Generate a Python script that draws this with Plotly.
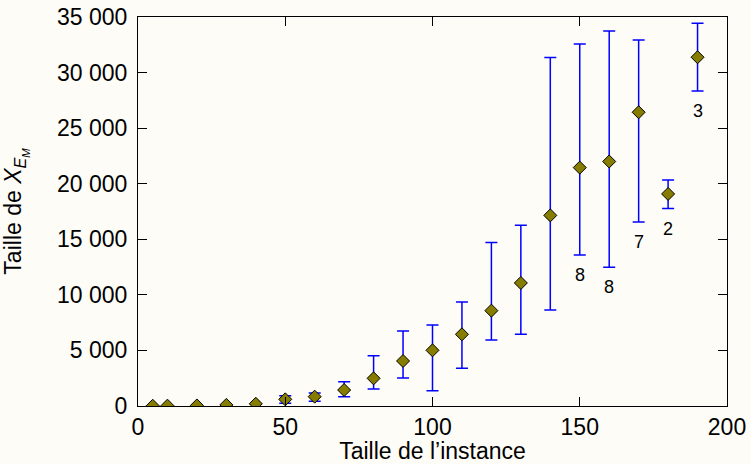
import plotly.graph_objects as go

sizes = [5, 10, 20, 30, 40, 50, 60, 70, 80, 90, 100, 110, 120, 130, 140, 150, 160, 170, 180, 190]
means = [20, 30, 50, 100, 200, 600, 840, 1440, 2490, 4050, 5010, 6450, 8580, 11070, 17150, 21450, 22000, 26430, 19080, 31380]
upper = [20, 30, 50, 100, 200, 930, 1170, 2190, 4530, 6750, 7290, 9360, 14700, 16260, 31350, 32580, 33750, 32940, 20340, 34440]
lower = [20, 30, 50, 100, 200, 240, 420, 840, 1530, 2520, 1380, 3390, 5940, 6450, 8640, 13590, 12480, 16560, 17760, 28350]
count_x = [150, 160, 170, 180, 190]
count_labels = ["8", "8", "7", "2", "3"]

err_plus = [u - m for u, m in zip(upper, means)]
err_minus = [m - l for m, l in zip(means, lower)]

FONT = "Liberation Sans, Arial, sans-serif"
BG = "#fdfcf7"

fig = go.Figure()
fig.add_trace(go.Scatter(
    x=sizes, y=means, mode="markers",
    marker=dict(symbol="diamond", size=10, color="#867c00", line=dict(color="#000000", width=1)),
    error_y=dict(type="data", symmetric=False, array=err_plus, arrayminus=err_minus,
                 color="#0000ff", thickness=1.5, width=6),
    showlegend=False,
))

low_by_x = dict(zip(sizes, lower))
for xv, t in zip(count_x, count_labels):
    fig.add_annotation(x=xv, y=low_by_x[xv], text=t, showarrow=False,
                       yanchor="middle", yshift=-20,
                       font=dict(family=FONT, size=18, color="#000000"))

axis_common = dict(
    showline=True, linecolor="#000000", linewidth=1, mirror="allticks",
    ticks="inside", ticklen=9, tickwidth=1, tickcolor="#000000",
    showgrid=False, zeroline=False, automargin=False,
    tickfont=dict(family=FONT, size=23, color="#000000"),
)

fig.update_layout(
    width=751, height=464,
    margin=dict(l=138, r=24, t=17, b=58),
    paper_bgcolor=BG, plot_bgcolor=BG,
    separators=", ",
    font=dict(family=FONT, size=23, color="#000000"),
    xaxis=dict(range=[0, 200], dtick=50, tick0=0,
               title=dict(text="Taille de l’instance", font=dict(family=FONT, size=23), standoff=6),
               **axis_common),
    yaxis=dict(range=[0, 35000], dtick=5000, tick0=0, tickformat=",d", ticklabelstandoff=5,
               title=dict(text="Taille de <i>X</i><sub><i>E</i><sub><i>M</i></sub></sub>",
                          font=dict(family=FONT, size=23), standoff=28),
               **axis_common),
)

fig.write_html("out.html", config={"displayModeBar": False},
               post_script="document.body.style.margin='0';document.body.style.background='" + BG + "';")
